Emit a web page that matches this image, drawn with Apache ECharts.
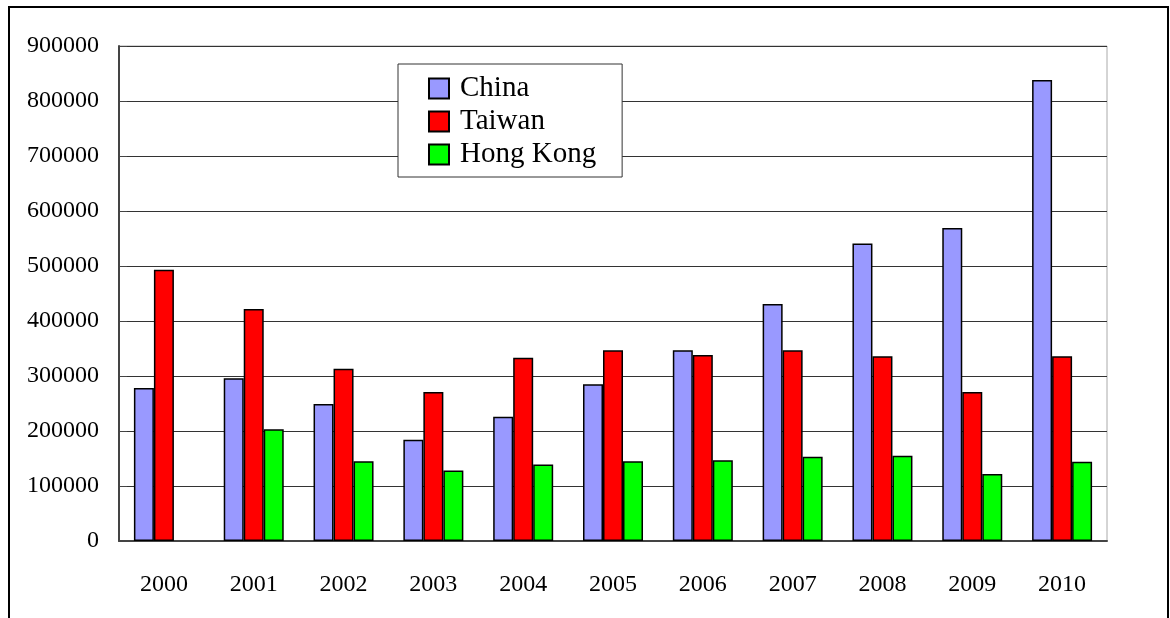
<!DOCTYPE html>
<html>
<head>
<meta charset="utf-8">
<script src="https://cdn.jsdelivr.net/npm/echarts@6/dist/echarts.min.js"></script>
<style>
  html, body { margin: 0; padding: 0; background: #fff; }
  #chart { width: 1170px; height: 618px; }
</style>
</head>
<body>
<div id="chart"></div>
<script>
const years = ['2000', '2001', '2002', '2003', '2004', '2005', '2006', '2007', '2008', '2009', '2010'];
const china = [278000, 296000, 249000, 184000, 226000, 285000, 347000, 431000, 541000, 569000, 838000];
const taiwan = [493000, 422000, 313000, 271000, 333000, 347000, 338000, 347000, 336000, 271000, 336000];
const hongKong = [null, 203000, 145000, 128000, 139000, 145000, 147000, 153000, 155000, 122000, 144000];

const FONT = '"Liberation Serif", "Times New Roman", serif';

const myChart = echarts.init(document.getElementById('chart'), null, { renderer: 'canvas' });

function barSeries(name, data, color) {
  return {
    name: name,
    type: 'bar',
    data: data,
    barWidth: 20,
    barGap: '0%',
    itemStyle: { color: color, borderColor: '#000', borderWidth: 1.5 }
  };
}

const option = {
  backgroundColor: '#fff',
  animation: false,
  graphic: [{
    type: 'rect',
    shape: { x: 9, y: 7, width: 1159, height: 700 },
    style: { fill: 'none', stroke: '#000', lineWidth: 2 },
    z: 100
  }],
  grid: {
    left: 119, right: 63, top: 46, bottom: 77,
    show: true, borderColor: '#aaa', borderWidth: 1
  },
  legend: {
    orient: 'vertical',
    left: 398, top: 64,
    padding: [10, 26, 8, 30],
    itemWidth: 20, itemHeight: 20, itemGap: 4,
    backgroundColor: '#fff',
    borderColor: '#333', borderWidth: 1,
    icon: 'rect',
    textStyle: { fontFamily: FONT, fontSize: 29, color: '#000', padding: [0, 0, 0, 6] },
    data: ['China', 'Taiwan', 'Hong Kong']
  },
  xAxis: {
    type: 'category',
    data: years,
    axisLine: { lineStyle: { color: '#444', width: 2 } },
    axisTick: { inside: true, length: 10, lineStyle: { color: '#444' } },
    axisLabel: { fontFamily: FONT, fontSize: 24, color: '#000', margin: 32 }
  },
  yAxis: {
    type: 'value',
    min: 0, max: 900000, interval: 100000,
    axisLine: { show: true, lineStyle: { color: '#444', width: 2 } },
    axisTick: { show: true, inside: true, length: 8, lineStyle: { color: '#444' } },
    axisLabel: {
      fontFamily: FONT, fontSize: 24, color: '#000', margin: 20,
      formatter: (v) => String(v)
    },
    splitLine: { lineStyle: { color: '#333', width: 1 } }
  },
  series: [
    barSeries('China', china, '#9999ff'),
    barSeries('Taiwan', taiwan, '#ff0000'),
    barSeries('Hong Kong', hongKong, '#00ff00')
  ]
};

myChart.setOption(option);
</script>
</body>
</html>
